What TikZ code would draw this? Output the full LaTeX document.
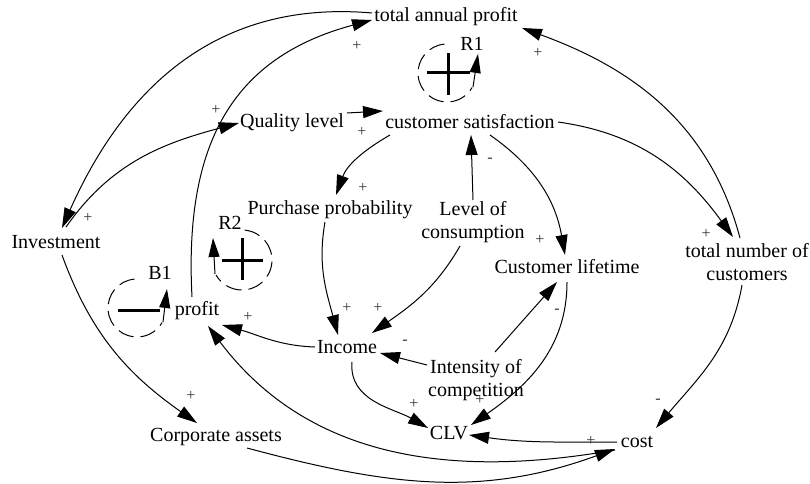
\documentclass[tikz,border=0pt]{standalone}
\usepackage{fontspec}
\setmainfont{Liberation Serif}
\usetikzlibrary{arrows.meta}
\begin{document}
\begin{tikzpicture}[x=1pt,y=1pt,
  var/.style={inner sep=1pt, font=\fontsize{20}{23}\selectfont, align=center},
  link/.style={line width=1pt, -{Triangle[length=20pt,width=12pt]}},
  sgn/.style={font=\fontsize{16}{16}\selectfont, text=black!80, inner sep=0pt},
  loopc/.style={line width=1pt, dash pattern=on 16pt off 7pt},
  looparr/.style={line width=1pt, -{Triangle[length=19pt,width=11pt]}},
  bar/.style={line width=3pt},
  lbl/.style={inner sep=0pt, font=\fontsize{20}{23}\selectfont}
]
\useasboundingbox (0,0) rectangle (810,483);

% variables
\node[var] (tap) at (446,466) {total annual profit};
\node[var] (qual) at (292,360) {Quality level};
\node[var] (cs) at (470,361) {customer satisfaction};
\node[var] (inv) at (56,241) {Investment};
\node[var] (pp) at (330,273) {Purchase probability};
\node[var] (loc) at (473,261) {Level of\\consumption};
\node[var] (prof) at (197,172) {profit};
\node[var] (cl) at (567,216) {Customer lifetime};
\node[var] (tnc) at (747,221) {total number of\\customers};
\node[var] (inc) at (347,136) {Income};
\node[var] (ic) at (476,103) {Intensity of\\competition};
\node[var] (clv) at (449,50) {CLV};
\node[var] (cost) at (637,41) {cost};
\node[var] (ca) at (216,46) {Corporate assets};

% links
\draw[link] ([shift={(-74,4)}]tap.center) to[out=175,in=66,looseness=1.05] ([shift={(6,14)}]inv.center);
\draw[link] ([shift={(10,15)}]inv.center) to[out=55,in=195] (qual.west);
\draw[link] ([shift={(-5,14)}]prof.center) to[out=93,in=195,looseness=1.15] ([shift={(-74,-3)}]tap.center);
\draw[link] ([shift={(55,10)}]qual.center) -- ([shift={(-87,11)}]cs.center);
\draw[link] ([shift={(-80,-13)}]cs.center) to[out=210,in=70] ([shift={(6,15)}]pp.center);
\draw[link] ([shift={(20,-13)}]cs.center) to[out=-35,in=100] ([shift={(-2,12)}]cl.center);
\draw[link] ([shift={(0,22)}]loc.center) -- ([shift={(1,-13)}]cs.center);
\draw[link] ([shift={(88,0)}]cs.center) to[out=-8,in=126] ([shift={(-14,25)}]tnc.center);
\draw[link] ([shift={(-7,24)}]tnc.center) to[out=105,in=-20] ([shift={(76,-11)}]tap.center);
\draw[link] ([shift={(-5,-12)}]pp.center) to[out=-100,in=105] ([shift={(-9,12)}]inc.center);
\draw[link] ([shift={(-13,-24)}]loc.center) to[out=-120,in=35] ([shift={(25,14)}]inc.center);
\draw[link] ([shift={(-32,0)}]inc.center) to[out=178,in=-15] ([shift={(25,-14)}]prof.center);
\draw[link] ([shift={(-49,15)}]ic.center) -- ([shift={(33,-6)}]inc.center);
\draw[link] ([shift={(19,28)}]ic.center) -- ([shift={(-10,-15)}]cl.center);
\draw[link] ([shift={(5,-15)}]inc.center) to[out=-95,in=150] ([shift={(-21,5)}]clv.center);
\draw[link] ([shift={(0,-15)}]cl.center) to[out=-90,in=35] ([shift={(22,8)}]clv.center);
\draw[link] ([shift={(-20,0)}]cost.center) to[out=180,in=-8] ([shift={(20,-2)}]clv.center);
\draw[link] ([shift={(-5,-23)}]tnc.center) to[out=-100,in=50] ([shift={(19,14)}]cost.center);
\draw[link] ([shift={(6,-13)}]inv.center) to[out=-70,in=145] ([shift={(-19,14)}]ca.center);
\draw[link] ([shift={(31,-11)}]ca.center) to[out=-15,in=200] ([shift={(-22,-7)}]cost.center);
\draw[link] ([shift={(-22,-8)}]cost.center) to[out=190,in=-53] ([shift={(11,-15)}]prof.center);

% polarity signs
\node[sgn] (s1) at (88,265) {+};
\node[sgn] (s2) at (216,373) {+};
\node[sgn] (s3) at (357,437) {+};
\node[sgn] (s4) at (362,351) {+};
\node[sgn] (s5) at (363,295) {+};
\node[sgn] (s6) at (540,243) {+};
\node[sgn] (s7) at (490,323) {-};
\node[sgn] (s8) at (706,249) {+};
\node[sgn] (s9) at (538,430) {+};
\node[sgn] (s10) at (347,175) {+};
\node[sgn] (s11) at (378,175) {+};
\node[sgn] (s12) at (248,166) {+};
\node[sgn] (s13) at (405,141) {-};
\node[sgn] (s14) at (557,172) {-};
\node[sgn] (s15) at (414,79) {+};
\node[sgn] (s16) at (480,83) {+};
\node[sgn] (s17) at (591,42) {+};
\node[sgn] (s18) at (658,82) {-};
\node[sgn] (s19) at (191,87) {+};

% loop R1
\coordinate (R1c) at (447,410);
\draw[loopc] ([shift={(95:29)}]R1c) arc[start angle=95,end angle=330,radius=29];
\draw[looparr] ([shift={(26,-14)}]R1c) -- ([shift={(31,19)}]R1c);
\draw[bar] ([shift={(-20,0)}]R1c) -- ([shift={(23,0)}]R1c);
\draw[bar] ([shift={(1,-22)}]R1c) -- ([shift={(1,20)}]R1c);
\node[lbl] (R1) at (472,439) {R1};

% loop R2
\coordinate (R2c) at (242,223);
\draw[loopc] ([shift={(85:30)}]R2c) arc[start angle=85,end angle=-150,radius=30];
\draw[looparr] ([shift={(-27,-14)}]R2c) -- ([shift={(-29,22)}]R2c);
\draw[bar] ([shift={(-20,0)}]R2c) -- ([shift={(21,0)}]R2c);
\draw[bar] ([shift={(0,-20)}]R2c) -- ([shift={(0,22)}]R2c);
\node[lbl] (R2) at (230,260) {R2};

% loop B1
\coordinate (B1c) at (137,175);
\draw[loopc] ([shift={(95:29)}]B1c) arc[start angle=95,end angle=330,radius=29];
\draw[looparr] ([shift={(26,-14)}]B1c) -- ([shift={(30,19)}]B1c);
\draw[bar] ([shift={(-19,-2)}]B1c) -- ([shift={(23,-2)}]B1c);
\node[lbl] (B1) at (160,210) {B1};
\end{tikzpicture}
\end{document}
